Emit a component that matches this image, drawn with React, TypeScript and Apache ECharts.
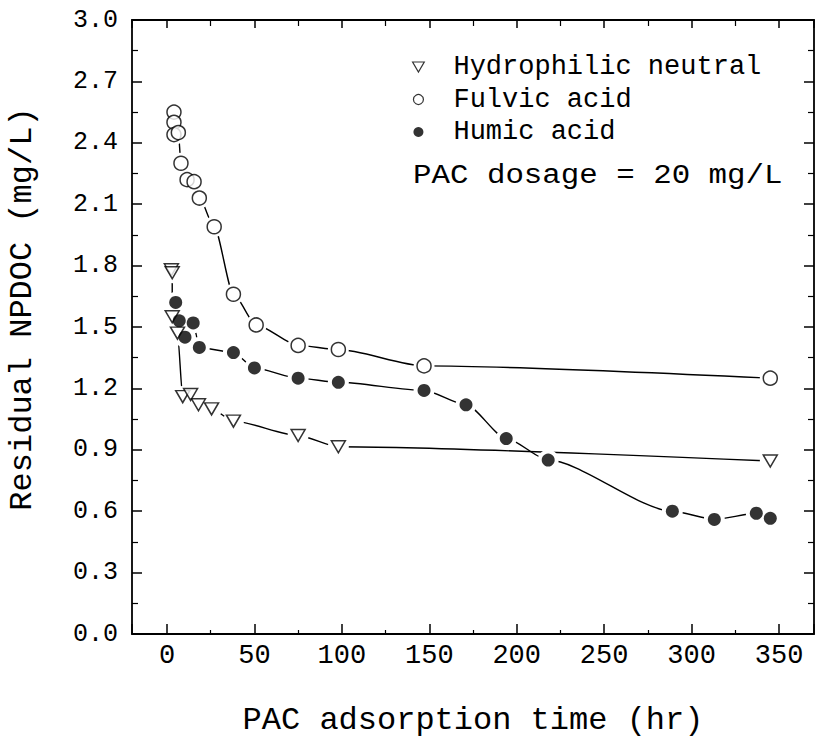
import React, { useEffect, useRef } from "react";
import * as echarts from "echarts";

// ---- data ----
const hydroTime = [2.5, 3, 3, 6, 9, 13.5, 18, 25.5, 38, 75, 98, 345];
const hydroValue = [1.78, 1.765, 1.55, 1.47, 1.16, 1.17, 1.12, 1.1, 1.04, 0.97, 0.915, 0.845];

const fulvicTime = [4, 4, 4, 6.5, 8, 11.5, 15.5, 18.5, 27, 38, 51, 75, 98, 147, 345];
const fulvicValue = [2.55, 2.5, 2.44, 2.45, 2.3, 2.22, 2.21, 2.13, 1.99, 1.66, 1.51, 1.41, 1.39, 1.31, 1.25];

const humicTime = [5, 7, 10.3, 15, 18.5, 38, 50, 75, 98, 147, 171, 194, 218, 289, 313, 337, 345];
const humicValue = [1.62, 1.53, 1.45, 1.52, 1.4, 1.375, 1.3, 1.25, 1.23, 1.19, 1.12, 0.955, 0.85, 0.6, 0.56, 0.59, 0.565];

const seriesNames = ["Hydrophilic neutral", "Fulvic acid", "Humic acid"];
const noteText = "PAC dosage = 20 mg/L";
const xTitle = "PAC adsorption time (hr)";
const yTitle = "Residual NPDOC (mg/L)";
const xTickLabels = ["0", "50", "100", "150", "200", "250", "300", "350"];

const FONT = "Liberation Mono";
const TRI = "path://M0,0 L14,0 L7,12 Z";

const pairs = (t: number[], v: number[]) => t.map((x, i) => [x, v[i]]);

export default function App() {
  const ref = useRef<HTMLDivElement>(null);

  useEffect(() => {
    if (!ref.current) return;
    const chart = echarts.init(ref.current, undefined, { renderer: "svg" });

    const curve = (name: string, data: number[][]) => ({
      type: "line",
      name: name + " curve",
      data,
      smooth: 0.25,
      smoothMonotone: "x",
      symbol: "circle",
      symbolSize: 21,
      showSymbol: true,
      showAllSymbol: true,
      itemStyle: { color: "#fff", borderWidth: 0 },
      lineStyle: { color: "#000", width: 1.4 },
      emphasis: { disabled: true },
      silent: true,
      z: 2,
    });

    const axisCommon = {
      type: "value",
      splitLine: { show: false },
      axisLine: { show: true, onZero: false, lineStyle: { color: "#000", width: 1.8 } },
    };

    const option: any = {
      animation: false,
      backgroundColor: "#fff",
      grid: { left: 132, right: 10, top: 20, bottom: 113, containLabel: false, outerBoundsMode: "none" },
      legend: {
        orient: "vertical",
        left: 407,
        top: 48.5,
        itemWidth: 60,
        itemHeight: 10,
        itemGap: 5.5,
        selectedMode: false,
        textStyle: { fontFamily: FONT, fontSize: 27, color: "#000", lineHeight: 27 },
        data: [
          { name: seriesNames[0], icon: TRI, itemStyle: { color: "#fff", borderColor: "#000", borderWidth: 1.2 } },
          { name: seriesNames[1], icon: "circle", itemStyle: { color: "#fff", borderColor: "#000", borderWidth: 1.2 } },
          { name: seriesNames[2], icon: "circle", itemStyle: { color: "#000", borderWidth: 0 } },
        ],
      },
      graphic: [
        {
          type: "text",
          x: 413,
          y: 175,
          scaleX: 1.1,
          style: { text: noteText, fontFamily: FONT, fontSize: 28, fill: "#000", verticalAlign: "middle", align: "left" },
        },
      ],
      xAxis: [
        {
          ...axisCommon,
          position: "bottom",
          min: -20,
          max: 370,
          splitNumber: 8,
          axisTick: { show: true, inside: true, length: 10, lineStyle: { color: "#000", width: 1.5 } },
          minorTick: { show: true, splitNumber: 2, length: 4, lineStyle: { color: "#000", width: 1.2 } },
          axisLabel: {
            color: "#000",
            fontFamily: FONT,
            fontSize: 27,
            margin: 8,
            formatter: (v: number) => (xTickLabels.includes(String(v)) ? String(v) : ""),
          },
          name: xTitle,
          nameLocation: "middle",
          nameGap: 70,
          nameTextStyle: { color: "#000", fontFamily: FONT, fontSize: 32 },
        },
        {
          ...axisCommon,
          position: "top",
          min: -20,
          max: 370,
          splitNumber: 8,
          axisTick: { show: true, inside: true, length: 8, lineStyle: { color: "#000", width: 1.5 } },
          minorTick: { show: true, splitNumber: 2, length: 6, lineStyle: { color: "#000", width: 1.2 } },
          axisLabel: { show: false },
        },
      ],
      yAxis: [
        {
          ...axisCommon,
          position: "left",
          min: 0,
          max: 3,
          interval: 0.3,
          axisTick: { show: true, inside: true, length: 10, lineStyle: { color: "#000", width: 1.5 } },
          minorTick: { show: true, splitNumber: 2, length: 6, lineStyle: { color: "#000", width: 1.2 } },
          axisLabel: {
            color: "#000",
            fontFamily: FONT,
            fontSize: 25,
            margin: 14,
            formatter: (v: number) => v.toFixed(1),
          },
          name: yTitle,
          nameLocation: "middle",
          nameGap: 94,
          nameTextStyle: { color: "#000", fontFamily: FONT, fontSize: 32, padding: [0, 0, 0, 36] },
        },
        {
          ...axisCommon,
          position: "right",
          min: 0,
          max: 3,
          interval: 0.3,
          axisTick: { show: true, inside: true, length: 10, lineStyle: { color: "#000", width: 1.5 } },
          minorTick: { show: true, splitNumber: 2, length: 6, lineStyle: { color: "#000", width: 1.2 } },
          axisLabel: { show: false },
        },
      ],
      series: [
        curve(seriesNames[0], pairs(hydroTime, hydroValue)),
        curve(seriesNames[1], pairs(fulvicTime, fulvicValue)),
        curve(seriesNames[2], pairs(humicTime, humicValue)),
        {
          type: "scatter",
          name: seriesNames[0],
          data: pairs(hydroTime, hydroValue),
          symbol: TRI,
          symbolSize: [14, 12],
          itemStyle: { color: "#fff", borderColor: "#000", borderWidth: 1.5 },
          z: 3,
        },
        {
          type: "scatter",
          name: seriesNames[1],
          data: pairs(fulvicTime, fulvicValue),
          symbol: "circle",
          symbolSize: 14,
          itemStyle: { color: "#fff", borderColor: "#000", borderWidth: 1.5 },
          z: 3,
        },
        {
          type: "scatter",
          name: seriesNames[2],
          data: pairs(humicTime, humicValue),
          symbol: "circle",
          symbolSize: 13,
          itemStyle: { color: "#000", borderWidth: 0 },
          z: 3,
        },
      ],
    };

    chart.setOption(option);
    return () => chart.dispose();
  }, []);

  return (
    <div
      ref={ref}
      style={{ position: "absolute", left: 0, top: 0, width: 824, height: 747, background: "#fff" }}
    />
  );
}
